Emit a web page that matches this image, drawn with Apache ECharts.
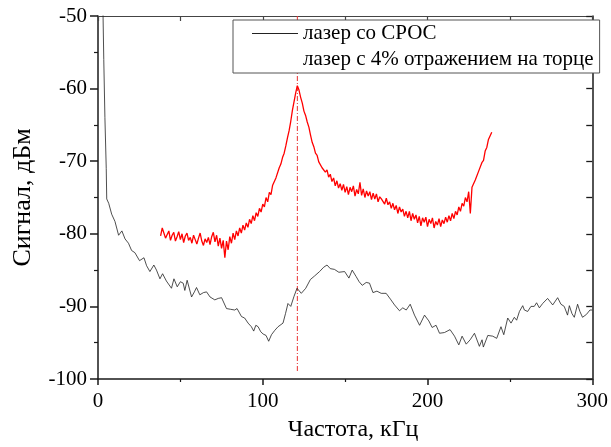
<!DOCTYPE html>
<html>
<head>
<meta charset="utf-8">
<script src="https://cdn.jsdelivr.net/npm/echarts@6/dist/echarts.min.js"></script>
<style>
  html, body { margin: 0; padding: 0; background: #fff; }
  #chart { width: 611px; height: 447px; }
</style>
</head>
<body>
<div id="chart"></div>
<script>
// Series names
const nameBlack = 'лазер со СРОС';
const nameRed = 'лазер с 4% отражением на торце';

// Laser with grating: frequency, kHz
const blackFreq = [
  3.0, 3.5, 4.2, 5.0, 5.3, 6.5, 8.3, 10.3, 12.5, 14.5, 16.4, 18.5, 20.4, 22.4, 25.2, 27.9, 29.5, 31.5, 33.9, 35.5,
  37.6, 39.2, 41.5, 44.6, 46.1, 48.1, 50.0, 51.7, 52.7, 54.1, 56.8, 58.5, 59.8, 61.8, 64.0, 65.9, 68.0, 70.9, 73.0, 75.0,
  78.0, 80.5, 83.0, 84.4, 87.1, 89.0, 91.1, 93.1, 94.5, 95.8, 97.2, 98.8, 100.2, 102.0, 103.6, 105.3, 107.3, 109.3, 112.3, 113.8,
  115.3, 117.0, 119.0, 120.8, 123.4, 126.1, 128.9, 131.5, 134.5, 137.0, 139.0, 141.0, 143.5, 146.2, 149.7, 152.3, 154.3, 156.7, 158.5, 160.4,
  162.8, 164.8, 166.9, 169.3, 171.9, 174.9, 177.5, 180.0, 183.0, 185.0, 187.1, 189.5, 192.1, 195.2, 198.2, 200.8, 202.8, 205.2, 207.3, 210.3,
  213.7, 216.4, 219.0, 221.0, 223.5, 225.9, 228.5, 231.5, 233.1, 233.9, 236.6, 239.6, 242.0, 244.6, 246.3, 248.7, 250.7, 252.7, 254.1, 255.8,
  257.8, 258.8, 260.8, 262.8, 264.8, 266.2, 267.9, 269.9, 272.9, 276.0, 279.0, 281.0, 283.0, 285.0, 286.1, 287.7, 289.1, 291.1, 292.5, 294.1,
  296.5, 298.6, 300.0
];
// Laser with grating: signal, dBm
const blackSignal = [
  -49.0, -56.0, -64.0, -71.0, -75.2, -75.8, -77.3, -78.3, -80.2, -79.6, -80.7, -81.3, -82.3, -82.6, -83.7, -83.3, -84.4, -85.2, -84.3, -85.0,
  -86.2, -85.5, -86.5, -87.5, -86.2, -87.3, -86.6, -86.8, -87.8, -86.4, -88.7, -88.0, -87.4, -88.4, -88.1, -88.0, -88.7, -89.1, -88.9, -88.8,
  -90.3, -90.4, -90.5, -90.3, -91.4, -91.6, -92.3, -92.8, -93.4, -92.6, -92.8, -93.5, -93.8, -94.0, -94.8, -93.9, -93.3, -92.8, -92.3, -91.0,
  -89.6, -90.0, -88.6, -87.5, -88.2, -87.5, -86.3, -85.8, -85.2, -84.6, -84.3, -84.8, -84.9, -85.3, -85.2, -86.1, -85.0, -85.9, -86.6, -87.1,
  -86.7, -86.8, -88.1, -87.9, -88.2, -88.2, -89.0, -89.8, -90.6, -90.2, -90.5, -89.7, -91.2, -92.6, -91.2, -92.0, -92.9, -92.6, -93.7, -93.6,
  -93.2, -94.1, -95.3, -94.1, -95.2, -94.6, -93.7, -95.5, -94.6, -95.6, -94.0, -94.1, -94.4, -92.8, -93.9, -91.6, -92.3, -91.5, -91.9, -90.7,
  -89.9, -90.5, -90.7, -90.0, -90.0, -89.5, -90.2, -89.6, -88.9, -89.8, -88.8, -89.7, -90.0, -91.2, -89.9, -91.0, -91.5, -89.7, -90.7, -91.5,
  -91.1, -90.5, -90.5
];

// Laser with 4% facet reflection: frequency, kHz
const redFreq = [
  38, 39, 40, 41, 42, 43, 44, 45, 46, 47,
  48, 49, 50, 51, 52, 53, 54, 55, 56, 57,
  58, 59, 60, 61, 62, 63, 64, 65, 66, 67,
  68, 69, 70, 71, 72, 73, 74, 75, 76, 77,
  78, 79, 80, 81, 82, 83, 84, 85, 86, 87,
  88, 89, 90, 91, 92, 93, 94, 95, 96, 97,
  98, 99, 100, 101, 102, 103, 104, 105, 106, 107,
  108, 109, 110, 111, 112, 113, 114, 115, 116, 117,
  118, 119, 120, 121, 122, 123, 124, 125, 126, 127,
  128, 129, 130, 131, 132, 133, 134, 135, 136, 137,
  138, 139, 140, 141, 142, 143, 144, 145, 146, 147,
  148, 149, 150, 151, 152, 153, 154, 155, 156, 157,
  158, 159, 160, 161, 162, 163, 164, 165, 166, 167,
  168, 169, 170, 171, 172, 173, 174, 175, 176, 177,
  178, 179, 180, 181, 182, 183, 184, 185, 186, 187,
  188, 189, 190, 191, 192, 193, 194, 195, 196, 197,
  198, 199, 200, 201, 202, 203, 204, 205, 206, 207,
  208, 209, 210, 211, 212, 213, 214, 215, 216, 217,
  218, 219, 220, 221, 222, 223, 224, 225, 226, 227,
  228, 229, 230, 231, 232, 233, 234, 235, 236, 237,
  238, 239
];
// Laser with 4% facet reflection: signal, dBm
const redSignal = [
  -80.3, -79.2, -79.0, -80.6, -80.1, -79.6, -80.9, -80.2, -79.8, -81.0,
  -80.4, -79.7, -80.8, -80.0, -81.2, -80.3, -79.9, -80.9, -80.5, -81.3,
  -80.2, -80.8, -81.4, -80.6, -79.9, -81.0, -81.6, -80.7, -81.2, -80.5,
  -81.5, -80.4, -79.8, -81.1, -80.2, -81.7, -80.6, -82.0, -80.9, -83.3,
  -81.0, -82.2, -80.4, -81.3, -79.9, -80.8, -79.6, -80.3, -79.2, -79.9,
  -78.8, -79.5, -78.5, -79.1, -78.0, -78.6, -77.5, -78.2, -77.1, -77.6,
  -76.5, -77.0, -75.9, -76.3, -75.0, -75.6, -74.3, -74.6, -73.3, -73.5,
  -72.3, -72.2, -70.9, -70.4, -69.5, -68.9, -67.9, -66.8, -65.8, -64.5,
  -63.0, -61.8, -60.6, -59.6, -60.2, -61.2, -62.0, -63.1, -63.7, -64.6,
  -65.3, -66.4, -67.4, -68.0, -68.9, -69.2, -70.1, -70.0, -70.9, -71.0,
  -71.5, -71.2, -72.2, -71.8, -72.8, -72.3, -73.4, -72.7, -73.7, -73.1,
  -74.0, -73.2, -74.3, -73.5, -74.6, -73.6, -74.2, -73.4, -74.8, -73.9,
  -74.5, -72.9, -74.7, -73.8, -75.0, -74.1, -74.8, -74.2, -75.3, -74.4,
  -75.2, -74.5, -75.6, -74.9, -75.2, -75.0, -75.9, -75.1, -76.0, -75.6,
  -76.5, -75.8, -76.7, -76.1, -77.2, -76.3, -77.0, -76.6, -77.6, -76.9,
  -77.8, -76.9, -78.2, -77.2, -78.0, -77.4, -78.5, -77.6, -78.9, -77.8,
  -78.4, -77.7, -79.0, -78.0, -78.6, -77.8, -79.2, -78.3, -78.8, -77.9,
  -79.0, -78.1, -78.6, -77.7, -78.4, -77.5, -78.2, -77.2, -77.9, -76.9,
  -77.4, -76.3, -76.9, -75.8, -76.2, -75.0, -75.6, -74.2, -77.2, -73.6,
  -73.8, -72.6, -72.7, -71.4, -71.2, -70.2, -69.9, -68.6, -68.1, -67.0,
  -66.8, -66.0
];

// Resonance marker: frequency, kHz, and its vertical extent, dBm
const markerFreq = [121];
const markerSpan = [-50, -99];

const pairs = (xs, ys) => xs.map((x, i) => [x, ys[i]]);

const serif = 'Liberation Serif, Times New Roman, serif';
const axisColor = '#1a1a1a';

const chart = echarts.init(document.getElementById('chart'), null, { renderer: 'canvas' });

chart.setOption({
  animation: false,
  backgroundColor: '#fff',
  grid: { left: 98, right: 18, top: 16, bottom: 66, containLabel: false },
  legend: {
    orient: 'vertical',
    left: 233,
    top: 20,
    width: 360,
    padding: [3, 6, 3, 18],
    itemWidth: 46,
    itemHeight: 14,
    itemGap: 5,
    backgroundColor: '#fff',
    borderColor: '#555',
    borderWidth: 1,
    textStyle: { fontFamily: serif, fontSize: 21, color: '#000' },
    data: [
      { name: nameBlack, itemStyle: { opacity: 0 }, lineStyle: { color: '#222', width: 1 } },
      { name: nameRed, itemStyle: { opacity: 0 }, lineStyle: { opacity: 0 } }
    ]
  },
  xAxis: [
    {
      type: 'value',
      min: 0, max: 300, interval: 100,
      name: 'Частота, кГц',
      nameLocation: 'middle',
      nameGap: 39,
      nameTextStyle: { fontFamily: serif, fontSize: 24, color: '#000', padding: [0, 0, 0, 16] },
      axisLine: { show: true, onZero: false, lineStyle: { color: axisColor, width: 1.5 } },
      axisTick: { show: true, inside: false, length: 6, lineStyle: { color: axisColor, width: 1.5 } },
      minorTick: { show: true, splitNumber: 2, length: 3, lineStyle: { color: axisColor, width: 1.2 } },
      axisLabel: { fontFamily: serif, fontSize: 21, color: '#000', margin: 12 },
      splitLine: { show: false }
    },
    {
      type: 'value',
      position: 'top',
      min: 0, max: 300, interval: 50,
      axisLine: { show: true, onZero: false, lineStyle: { color: '#444', width: 1.2 } },
      axisTick: { show: true, inside: true, length: 5, lineStyle: { color: '#444', width: 1.2 } },
      axisLabel: { show: false },
      splitLine: { show: false }
    }
  ],
  yAxis: [
    {
      type: 'value',
      min: -100, max: -50, interval: 10,
      name: 'Сигнал, дБм',
      nameLocation: 'middle',
      nameGap: 62,
      nameTextStyle: { fontFamily: serif, fontSize: 26, color: '#000' },
      axisLine: { show: true, onZero: false, lineStyle: { color: axisColor, width: 1.5 } },
      axisTick: { show: true, inside: false, length: 8, lineStyle: { color: axisColor, width: 1.5 } },
      minorTick: { show: true, splitNumber: 2, length: 4, lineStyle: { color: axisColor, width: 1.2 } },
      axisLabel: { fontFamily: serif, fontSize: 21, color: '#000', margin: 11 },
      splitLine: { show: false }
    },
    {
      type: 'value',
      position: 'right',
      min: -100, max: -50, interval: 5,
      axisLine: { show: true, onZero: false, lineStyle: { color: axisColor, width: 1.5 } },
      axisTick: { show: true, inside: true, length: 6, lineStyle: { color: axisColor, width: 1.3 } },
      axisLabel: { show: false },
      splitLine: { show: false }
    }
  ],
  series: [
    {
      name: 'resonance',
      type: 'line',
      xAxisIndex: 0, yAxisIndex: 0,
      data: [[markerFreq[0], markerSpan[0]], [markerFreq[0], markerSpan[1]]],
      symbol: 'none',
      silent: true,
      lineStyle: { color: '#e83030', width: 1, type: [5, 2, 1, 2] },
      z: 1
    },
    {
      name: nameRed,
      type: 'line',
      xAxisIndex: 0, yAxisIndex: 0,
      data: pairs(redFreq, redSignal),
      symbol: 'none',
      clip: true,
      lineStyle: { color: '#ff0000', width: 1.3 },
      z: 2
    },
    {
      name: nameBlack,
      type: 'line',
      xAxisIndex: 0, yAxisIndex: 0,
      data: pairs(blackFreq, blackSignal),
      symbol: 'none',
      clip: true,
      lineStyle: { color: '#222', width: 0.8 },
      z: 3
    }
  ]
});
</script>
</body>
</html>
